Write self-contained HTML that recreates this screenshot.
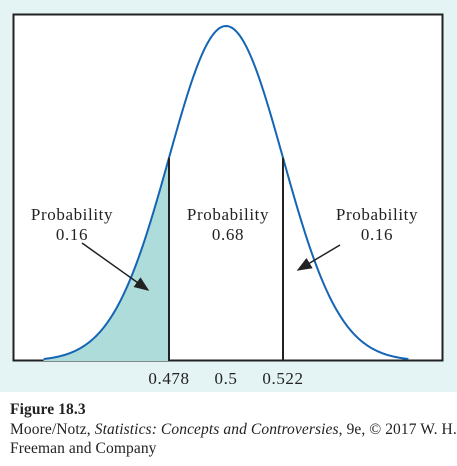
<!DOCTYPE html>
<html><head><style>
body{margin:0;width:457px;height:466px;background:#fff;font-family:"Liberation Serif",serif;overflow:hidden}
.cap{position:absolute;left:10px;font-size:15.5px;color:#222;white-space:nowrap;letter-spacing:0.1px}
</style></head><body>
<svg width="457" height="392" style="position:absolute;left:0;top:0">
<defs><marker id="ah" markerWidth="10" markerHeight="8" refX="9" refY="4" orient="auto"><path d="M0,0L10,4L0,8z" fill="#222"/></marker></defs>
<rect x="0" y="0" width="457" height="392" fill="#e4f3f4"/>
<rect x="13.5" y="14.5" width="429" height="346" fill="#fff" stroke="#222" stroke-width="2"/>
<path id="shade" fill="#aedcda"/>
<path id="curve" fill="none" stroke="#1565b5" stroke-width="2"/>
<line id="l1" stroke="#222" stroke-width="2"/>
<line id="l2" stroke="#222" stroke-width="2"/>
<g font-size="17" fill="#222" text-anchor="middle" letter-spacing="0.6">
<text x="72" y="220">Probability</text>
<text x="72" y="240">0.16</text>
<text x="228" y="220">Probability</text>
<text x="228" y="240">0.68</text>
<text x="377" y="220">Probability</text>
<text x="377" y="240">0.16</text>
<g id="ticks"></g>
</g>
<line x1="82" y1="243" x2="148" y2="290" stroke="#222" stroke-width="1.5" marker-end="url(#ah)"/>
<line x1="340" y1="245" x2="298" y2="270" stroke="#222" stroke-width="1.5" marker-end="url(#ah)"/>
</svg>
<div class="cap" style="top:401px;font-weight:bold">Figure 18.3</div>
<div class="cap" style="top:421px">Moore/Notz, <i>Statistics: Concepts and Controversies</i>, 9e, © 2017 W. H.</div>
<div class="cap" style="top:440px">Freeman and Company</div>
<script>
const mean=[0.5];
const sd=[0.022];
const cutoffs=[0.478,0.522];
const tickLabels=["0.478","0.5","0.522"];
const tickValues=[0.478,0.5,0.522];
const x=v=>226+(v-0.5)/0.022*57;
const base=361, peakH=335;
const y=v=>base-peakH*Math.exp(-0.5*Math.pow((v-mean[0])/sd[0],2));
let d="",s="";
const lo=mean[0]-3.2*sd[0], hi=mean[0]+3.2*sd[0];
for(let i=0;i<=300;i++){const v=lo+(hi-lo)*i/300;d+=(i?"L":"M")+x(v).toFixed(2)+","+y(v).toFixed(2);}
document.getElementById('curve').setAttribute('d',d);
s="M"+x(lo)+","+base;
for(let i=0;i<=150;i++){const v=lo+(cutoffs[0]-lo)*i/150;s+="L"+x(v).toFixed(2)+","+y(v).toFixed(2);}
s+="L"+x(cutoffs[0])+","+base+"Z";
document.getElementById('shade').setAttribute('d',s);
[['l1',cutoffs[0]],['l2',cutoffs[1]]].forEach(([id,v])=>{const l=document.getElementById(id);l.setAttribute('x1',x(v));l.setAttribute('x2',x(v));l.setAttribute('y1',base);l.setAttribute('y2',y(v));});
const g=document.getElementById('ticks');
tickValues.forEach((v,i)=>{const t=document.createElementNS('http://www.w3.org/2000/svg','text');
t.setAttribute('x',x(v));t.setAttribute('y',384);t.textContent=tickLabels[i];


g.appendChild(t);});
</script>
</body></html>
